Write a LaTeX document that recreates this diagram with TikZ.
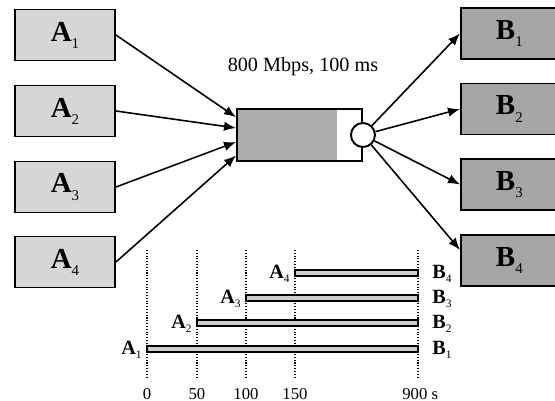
\documentclass[tikz,border=0pt]{standalone}
\usepackage{fontspec}
\setmainfont{Liberation Serif}
\usetikzlibrary{calc, arrows.meta}
\definecolor{colSend}{RGB}{214, 214, 214}
\definecolor{colRecv}{RGB}{165, 165, 165}
\definecolor{colLink}{RGB}{172, 172, 172}
\definecolor{colFlow}{RGB}{205, 205, 205}

\newcommand{\boxlbl}[2]{{\fontsize{16.5}{16.5}\selectfont\bfseries #1}\raisebox{-4pt}{\fontsize{8.5}{8.5}\selectfont #2}}
\newcommand{\flowlbl}[2]{{\fontsize{11.5}{11.5}\selectfont\bfseries #1}\raisebox{-2.6pt}{\fontsize{6.5}{6.5}\selectfont #2}}

\begin{document}
\begin{tikzpicture}[>={Latex[length=2.4mm, width=1.9mm]}]

  % Picture frame (555 x 401 px, 1 px = 0.02 cm)
  \clip (0, 0) rectangle (11.1, -8.02);

  \tikzset{
    sender/.style={
      draw, line width=1.1pt, fill=colSend,
      minimum width=2.0cm, minimum height=1.02cm, inner sep=0pt
    },
    receiver/.style={
      draw, line width=1.1pt, fill=colRecv, anchor=west,
      text width=0.8cm, align=left, inner xsep=0.7cm, inner ysep=0pt,
      minimum height=1.02cm
    },
    arr/.style={->, line width=0.9pt},
    tick/.style={densely dotted, line width=0.6pt},
    flowbar/.style={draw, line width=0.8pt, fill=colFlow},
    axislbl/.style={font=\fontsize{9.5}{9.5}\selectfont, anchor=base, inner sep=0pt}
  }

  % --- Senders A1..A4 ---
  \node[sender] (a1) at (1.3, -0.70) {\boxlbl{A}{1}};
  \node[sender] (a2) at (1.3, -2.22) {\boxlbl{A}{2}};
  \node[sender] (a3) at (1.3, -3.74) {\boxlbl{A}{3}};
  \node[sender] (a4) at (1.3, -5.24) {\boxlbl{A}{4}};

  % --- Receivers B1..B4 (run off the right edge) ---
  \node[receiver] (b1) at (9.2, -0.67) {\boxlbl{B}{1}};
  \node[receiver] (b2) at (9.2, -2.18) {\boxlbl{B}{2}};
  \node[receiver] (b3) at (9.2, -3.69) {\boxlbl{B}{3}};
  \node[receiver] (b4) at (9.2, -5.21) {\boxlbl{B}{4}};

  % --- Bottleneck link with queue ---
  \node[draw, line width=1.1pt, fill=white,
        minimum width=2.5cm, minimum height=1.04cm, inner sep=0pt,
        path picture={\fill[colLink] (path picture bounding box.north west)
          rectangle ($(path picture bounding box.south east)+(-0.5, 0)$);}]
    (link) at (5.99, -2.70) {};
  \node[draw, circle, line width=1.1pt, fill=white, minimum size=0.48cm, inner sep=0pt]
    (queue) at (link.east) {};

  \node[font=\fontsize{11.5}{11.5}\selectfont] (rate) at (6.06, -1.34) {800 Mbps, 100 ms};

  % Incoming arrows
  \draw[arr] (a1.east) -- ($(link.north west)!0.17!(link.south west)$);
  \draw[arr] (a2.east) -- ($(link.north west)!0.37!(link.south west)$);
  \draw[arr] (a3.east) -- ($(link.north west)!0.63!(link.south west)$);
  \draw[arr] (a4.east) -- ($(link.north west)!0.88!(link.south west)$);

  % Outgoing arrows
  \draw[arr] (queue) -- (b1.west);
  \draw[arr] (queue) -- (b2.west);
  \draw[arr] (queue) -- (b3.west);
  \draw[arr] (queue) -- ($(b4.north west)!0.3!(b4.south west)$);

  % --- Timeline of the four flows ---
  \foreach \x/\t in {2.94/0, 3.94/50, 4.92/100, 5.90/150} {
    \draw[tick] (\x, -5.0) -- (\x, -7.54);
    \node[axislbl] at (\x, -7.98) {\t};
  }
  \draw[tick] (8.36, -5.0) -- (8.36, -7.54);
  \node[axislbl, anchor=base west] at (8.04, -7.98) {900 s};

  \foreach \x/\y/\i in {2.94/-6.98/1, 3.94/-6.46/2, 4.92/-5.96/3, 5.90/-5.46/4} {
    \draw[flowbar] (\x, \y+0.06) rectangle (8.36, \y-0.06);
    \node[anchor=base east, inner sep=0pt] (fa\i) at (\x-0.1, \y-0.1) {\flowlbl{A}{\i}};
    \node[anchor=base west, inner sep=0pt] (fb\i) at (8.64, \y-0.1) {\flowlbl{B}{\i}};
  }

\end{tikzpicture}
\end{document}
